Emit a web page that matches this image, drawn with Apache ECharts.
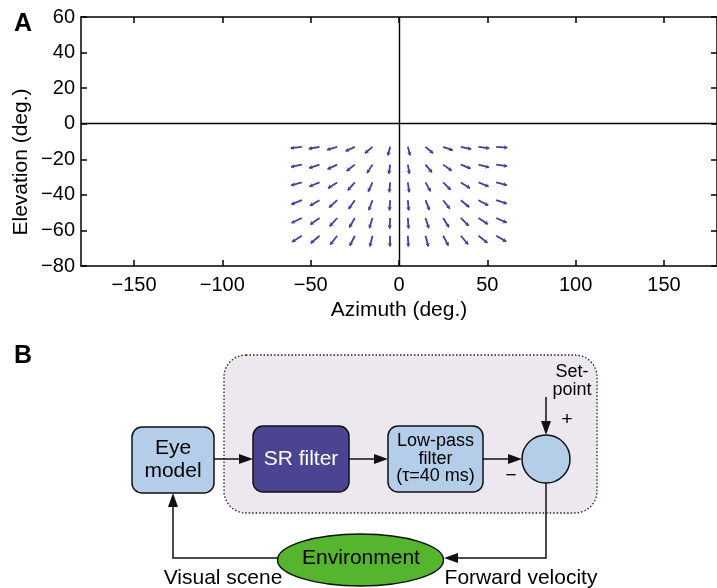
<!DOCTYPE html>
<html>
<head>
<meta charset="utf-8">
<script src="https://cdn.jsdelivr.net/npm/echarts@6/dist/echarts.min.js"></script>
<style>
html,body{margin:0;padding:0;background:#fff;}
#chart{width:717px;height:588px;}
</style>
</head>
<body>
<div id="chart"></div>
<script>
// ---- Panel A data ----
const xTicks = [-150, -100, -50, 0, 50, 100, 150];
const yTicks = [-80, -60, -40, -20, 0, 20, 40, 60];
const azimuths = [-55, -45, -35, -25, -15, -5, 5, 15, 25, 35, 45, 55];
const elevations = [-13, -23, -33, -43, -53, -63];
// arrow heading (deg, counter-clockwise from +azimuth), one row per elevation
const headingRow1 = [187, 190, 196, 205, 220, 255, 285, 320, 340, 348, 352, 356];
const headingRow2 = [192, 198, 205, 218, 237, 262, 280, 310, 325, 338, 345, 352];
const headingRow3 = [195, 202, 212, 228, 245, 265, 278, 300, 315, 328, 338, 346];
const headingRow4 = [202, 210, 222, 235, 250, 266, 275, 292, 308, 320, 332, 342];
const headingRow5 = [206, 215, 228, 240, 253, 267, 274, 288, 302, 315, 327, 336];
const headingRow6 = [212, 220, 232, 243, 256, 268, 273, 285, 298, 310, 322, 330];
// arrow length (deg)
const lengthRow1 = [6.4, 6.2, 6.0, 5.8, 5.6, 5.0, 5.0, 5.6, 5.8, 6.0, 6.2, 6.4];
const lengthRow2 = [6.3, 6.2, 6.0, 5.9, 5.7, 5.3, 5.3, 5.7, 5.9, 6.0, 6.2, 6.3];
const lengthRow3 = [6.3, 6.2, 6.1, 6.0, 5.8, 5.6, 5.6, 5.8, 6.0, 6.1, 6.2, 6.3];
const lengthRow4 = [6.4, 6.3, 6.2, 6.1, 6.0, 5.8, 5.8, 6.0, 6.1, 6.2, 6.3, 6.4];
const lengthRow5 = [6.5, 6.4, 6.3, 6.2, 6.1, 6.0, 6.0, 6.1, 6.2, 6.3, 6.4, 6.5];
const lengthRow6 = [6.6, 6.5, 6.4, 6.3, 6.2, 6.1, 6.1, 6.2, 6.3, 6.4, 6.5, 6.6];
const headings = [headingRow1, headingRow2, headingRow3, headingRow4, headingRow5, headingRow6];
const lengths = [lengthRow1, lengthRow2, lengthRow3, lengthRow4, lengthRow5, lengthRow6];

// ---- Build arrows ----
const arrowData = [];
elevations.forEach((el, r) => {
  azimuths.forEach((az, c) => {
    const a = headings[r][c] * Math.PI / 180;
    const L = lengths[r][c];
    arrowData.push({ coords: [[az, el], [az + L * Math.cos(a), el + L * Math.sin(a)]] });
  });
});

const FONT = '"Liberation Sans", Arial, Helvetica, sans-serif';
const minus = v => String(v).replace('-', '\u2212');
const axisLineStyle = { color: '#000', width: 1.5 };

const chart = echarts.init(document.getElementById('chart'), null, { renderer: 'canvas' });

// ---- Panel B helpers ----
const INK = '#111';
const LIGHT = '#b4cde9';
function arrowHead(tipX, tipY, dir) {
  const len = 14, hw = 5;
  let pts;
  if (dir === 'right') pts = [[tipX, tipY], [tipX - len, tipY - hw], [tipX - len, tipY + hw]];
  else if (dir === 'left') pts = [[tipX, tipY], [tipX + len, tipY - hw], [tipX + len, tipY + hw]];
  else if (dir === 'down') pts = [[tipX, tipY], [tipX - hw, tipY - len], [tipX + hw, tipY - len]];
  else pts = [[tipX, tipY], [tipX - hw, tipY + len], [tipX + hw, tipY + len]];
  return { type: 'polygon', shape: { points: pts }, style: { fill: INK }, z: 20 };
}
function poly(points) {
  return { type: 'polyline', shape: { points }, style: { stroke: INK, lineWidth: 1.5, fill: null }, z: 19 };
}
function label(text, x, y, size, opts) {
  return {
    type: 'text', x, y, z: 30,
    style: Object.assign({ text, font: size + 'px ' + FONT, fill: '#000', align: 'center', verticalAlign: 'middle' }, opts || {})
  };
}

const graphics = [
  label('A', 23, 24, 25, { font: 'bold 25px ' + FONT }),
  label('B', 23, 356, 25, { font: 'bold 25px ' + FONT }),
  { type: 'text', x: 21, y: 162, rotation: Math.PI / 2, z: 30,
    style: { text: 'Elevation (deg.)', font: '21px ' + FONT, fill: '#000', align: 'center', verticalAlign: 'middle' } },
  // dotted enclosure
  { type: 'rect', shape: { x: 224, y: 355, width: 373, height: 158, r: 22 },
    style: { fill: '#ede8f0', stroke: '#222', lineWidth: 1.3, lineDash: [1.5, 2] }, z: 10 },
  // boxes
  { type: 'rect', shape: { x: 132, y: 427, width: 82, height: 66, r: 10 }, style: { fill: LIGHT, stroke: INK, lineWidth: 1.5 }, z: 15 },
  label('Eye\nmodel', 173, 460, 21, { lineHeight: 23 }),
  { type: 'rect', shape: { x: 253, y: 426, width: 96, height: 66, r: 10 }, style: { fill: '#4a4493', stroke: INK, lineWidth: 1.5 }, z: 15 },
  label('SR filter', 301, 459, 21, { fill: '#fff' }),
  { type: 'rect', shape: { x: 388, y: 426, width: 95, height: 66, r: 10 }, style: { fill: LIGHT, stroke: INK, lineWidth: 1.5 }, z: 15 },
  label('Low-pass\nfilter\n(\u03c4=40 ms)', 435.5, 459, 18, { lineHeight: 17.5 }),
  { type: 'circle', shape: { cx: 546, cy: 459, r: 24 }, style: { fill: LIGHT, stroke: INK, lineWidth: 1.5 }, z: 15 },
  { type: 'ellipse', shape: { cx: 360.5, cy: 560, rx: 83, ry: 26 }, style: { fill: '#55b52f', stroke: INK, lineWidth: 1.5 }, z: 15 },
  label('Environment', 361, 558, 21),
  // arrows
  poly([[214, 459], [242, 459]]), arrowHead(253, 459, 'right'),
  poly([[349, 459], [377, 459]]), arrowHead(388, 459, 'right'),
  poly([[483, 459], [511, 459]]), arrowHead(522, 459, 'right'),
  poly([[546, 397], [546, 424]]), arrowHead(546, 435, 'down'),
  poly([[546, 483], [546, 558], [454, 558]]), arrowHead(444, 558, 'left'),
  poly([[278, 558], [173, 558], [173, 505]]), arrowHead(173, 493, 'up'),
  // labels
  label('Set-\npoint', 572, 381, 18, { lineHeight: 18.5 }),
  label('+', 567, 420, 19),
  label('\u2212', 511, 476, 19),
  label('Visual scene', 223, 578, 21),
  label('Forward velocity', 521, 578, 21)
];

const option = {
  animation: false,
  backgroundColor: '#fff',
  grid: { left: 81, top: 17, width: 639, height: 249, containLabel: false },
  xAxis: [
    { type: 'value', min: -180, max: 180, position: 'bottom',
      name: 'Azimuth (deg.)', nameLocation: 'middle', nameGap: 34,
      nameTextStyle: { fontFamily: FONT, fontSize: 21, color: '#000' },
      axisLine: { show: true, onZero: false, lineStyle: axisLineStyle },
      axisTick: { show: true, inside: true, length: 6, customValues: xTicks, lineStyle: axisLineStyle },
      axisLabel: { show: true, margin: 9, customValues: xTicks, formatter: minus, fontFamily: FONT, fontSize: 20, color: '#000' },
      splitLine: { show: false } },
    { type: 'value', min: -180, max: 180, position: 'top',
      axisLine: { show: true, onZero: false, lineStyle: axisLineStyle },
      axisTick: { show: true, inside: true, length: 6, customValues: xTicks, lineStyle: axisLineStyle },
      axisLabel: { show: false }, splitLine: { show: false } }
  ],
  yAxis: [
    { type: 'value', min: -80, max: 60, interval: 20, position: 'left',
      axisLine: { show: true, onZero: false, lineStyle: axisLineStyle },
      axisTick: { show: true, inside: true, length: 6, customValues: yTicks, lineStyle: axisLineStyle },
      axisLabel: { show: true, margin: 6, customValues: yTicks, formatter: minus, fontFamily: FONT, fontSize: 20, color: '#000' },
      splitLine: { show: false } },
    { type: 'value', min: -80, max: 60, interval: 20, position: 'right',
      axisLine: { show: true, onZero: false, lineStyle: axisLineStyle },
      axisTick: { show: true, inside: true, length: 6, customValues: yTicks, lineStyle: axisLineStyle },
      axisLabel: { show: false }, splitLine: { show: false } }
  ],
  series: [
    { type: 'scatter', xAxisIndex: 0, yAxisIndex: 0, data: [], silent: true,
      markLine: { silent: true, symbol: 'none', label: { show: false }, animation: false,
        lineStyle: { color: '#000', width: 1.4, type: 'solid' },
        data: [{ xAxis: 0 }, { yAxis: 0 }] } },
    { type: 'lines', coordinateSystem: 'cartesian2d', xAxisIndex: 0, yAxisIndex: 0,
      symbol: ['none', 'arrow'], symbolSize: 3.5,
      lineStyle: { color: '#453f94', width: 1.8, opacity: 1 },
      data: arrowData, silent: true }
  ],
  graphic: graphics
};
chart.setOption(option);
</script>
</body>
</html>
